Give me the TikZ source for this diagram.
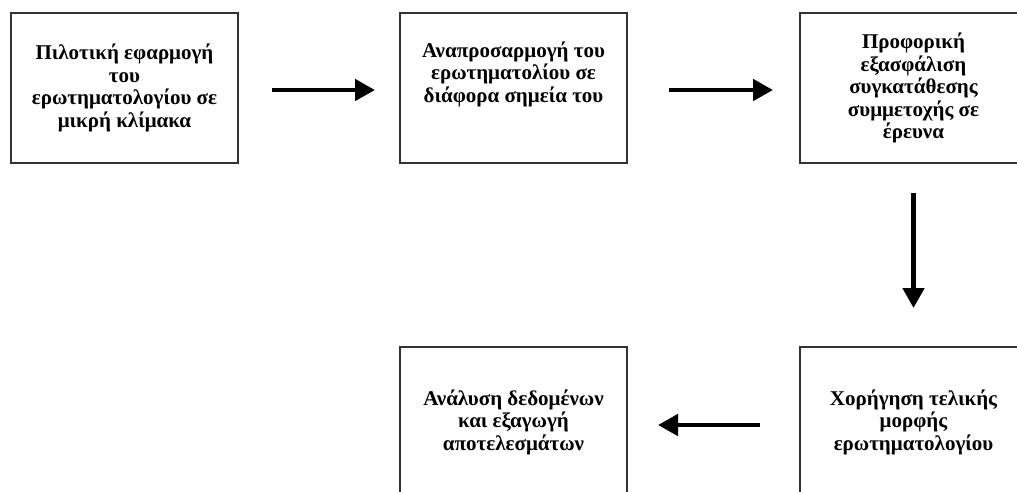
\documentclass[tikz,border=0pt]{standalone}
\usepackage{fontspec}
\setmainfont{Liberation Serif}
\usetikzlibrary{arrows.meta}
\begin{document}
\begin{tikzpicture}[x=1pt,y=1pt,
  stepbox/.style={draw=black!80, line width=1.3pt, minimum width=227pt, minimum height=150pt,
    inner sep=2pt, outer sep=0pt, align=center, font=\fontsize{21}{22.5}\selectfont\bfseries},
  flow/.style={line width=4.8pt, -{Triangle[length=20pt,width=21pt]}}]
\useasboundingbox (0,0) rectangle (1017,-491);
\clip (0,0) rectangle (1017,-491);
\fill[white] (0,0) rectangle (1017,-491);
\node[stepbox] (b1) at (124.5,-88) {Πιλοτική εφαρμογή\\του\\ερωτηματολογίου σε\\μικρή κλίμακα};
\node[stepbox] (b2) at (513.5,-88) {Αναπροσαρμογή του\\ερωτηματολίου σε\\διάφορα σημεία του\\[10pt]};
\node[stepbox] (b3) at (913.5,-88) {Προφορική\\εξασφάλιση\\συγκατάθεσης\\συμμετοχής σε\\έρευνα};
\node[stepbox] (b5) at (913.5,-422) {Χορήγηση τελικής\\μορφής\\ερωτηματολογίου};
\node[stepbox] (b4) at (513.5,-422) {Ανάλυση δεδομένων\\και εξαγωγή\\αποτελεσμάτων};
\draw[flow, shorten <=34pt, shorten >=25pt] ([yshift=-2pt]b1.east) -- ([yshift=-2pt]b2.west);
\draw[flow, shorten <=42pt, shorten >=27pt] ([yshift=-2pt]b2.east) -- ([yshift=-2pt]b3.west);
\draw[flow, shorten <=30pt, shorten >=39pt] (b3.south) -- (b5.north);
\draw[flow, shorten <=40pt, shorten >=31pt] ([yshift=-3pt]b5.west) -- ([yshift=-3pt]b4.east);
\end{tikzpicture}
\end{document}
